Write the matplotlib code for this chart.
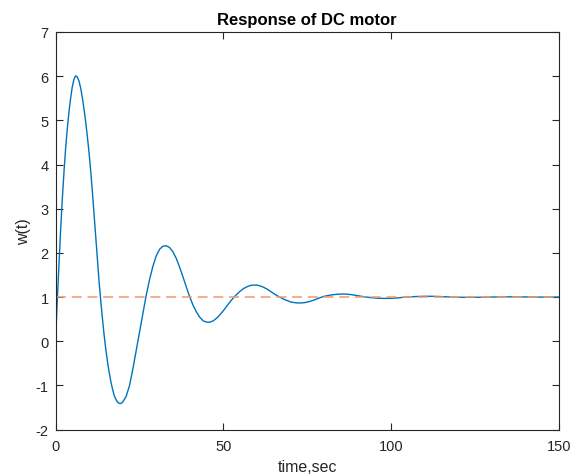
import numpy as np
import matplotlib
matplotlib.use("Agg")
import matplotlib.pyplot as plt

plt.rcParams['font.family'] = ['Liberation Sans', 'DejaVu Sans']
plt.rcParams['axes.unicode_minus'] = False

# values
t = [0, 0.5, 1.0, 1.5, 2.0, 2.5, 3.0, 3.5, 4.0, 4.5, 5.0, 5.5, 6.0, 6.5, 7.0,
     7.5, 8.0, 8.5, 9.0, 9.5, 10.0, 10.5, 11.0, 11.5, 12.0, 12.5, 13.0, 13.5,
     14.0, 14.5, 15.0, 15.5, 16.0, 16.5, 17.0, 17.5, 18.0, 18.5, 19.0, 19.5,
     20, 21, 22, 23, 24, 25, 26, 27, 28, 29, 30, 31, 32, 33, 34, 35, 36, 37,
     38, 39, 40, 41, 42, 43, 44, 45, 46, 47, 48, 49, 50, 51, 52, 53, 54, 55,
     56, 57, 58, 59, 60, 61, 62, 63, 64, 65, 66, 67, 68, 69, 70, 71, 72, 73,
     74, 75, 76, 77, 78, 79, 80, 82, 84, 86, 88, 90, 92, 94, 96, 98, 100, 102,
     104, 106, 108, 110, 112, 114, 116, 118, 120, 122, 124, 126, 128, 130, 132,
     134, 136, 138, 140, 142, 144, 146, 148, 150]
w = [0.00, 0.88, 1.70, 2.48, 3.18, 3.80, 4.35, 4.80, 5.18, 5.50, 5.76, 5.93,
     6.01, 5.98, 5.89, 5.73, 5.51, 5.25, 4.96, 4.63, 4.26, 3.84, 3.37, 2.86,
     2.34, 1.82, 1.33, 0.90, 0.50, 0.13, -0.19, -0.47, -0.71, -0.92, -1.09,
     -1.23, -1.32, -1.38, -1.41, -1.41, -1.38, -1.26, -1.02, -0.65, -0.23,
     0.20, 0.62, 1.03, 1.39, 1.69, 1.93, 2.08, 2.15, 2.16, 2.12, 2.02, 1.87,
     1.67, 1.45, 1.22, 1.00, 0.81, 0.66, 0.54, 0.46, 0.43, 0.43, 0.46, 0.52,
     0.60, 0.69, 0.79, 0.89, 0.98, 1.06, 1.13, 1.19, 1.23, 1.26, 1.27, 1.27,
     1.25, 1.22, 1.18, 1.13, 1.08, 1.03, 0.99, 0.95, 0.92, 0.89, 0.875, 0.865,
     0.865, 0.87, 0.885, 0.905, 0.93, 0.96, 0.99, 1.015, 1.045, 1.063, 1.068,
     1.055, 1.03, 1.005, 0.985, 0.972, 0.968, 0.97, 0.98, 0.995, 1.005, 1.012,
     1.016, 1.016, 1.012, 1.005, 0.999, 0.995, 0.992, 0.992, 0.994, 0.997,
     1.000, 1.003, 1.004, 1.004, 1.003, 1.001, 0.999, 0.998, 0.998, 0.999,
     1.000]
ref_t = [0, 150]
ref_w = [1, 1]

fig = plt.figure(figsize=(5.82, 4.77), dpi=100)
ax = fig.add_axes([55.5/582, 1 - 430.5/477, (559 - 55.5)/582, (430.5 - 33)/477])

ax.plot(t, w, color='#0072BD', lw=1.0)
ax.plot(ref_t, ref_w, color='#F09A68', lw=1.1, dashes=(6.5, 3.8))

ax.set_xlim(0, 150)
ax.set_ylim(-2, 7)
ax.set_xticks([0, 50, 100, 150])
ax.set_yticks(range(-2, 8))
ax.tick_params(direction='in', length=5, width=0.8, top=True, right=True,
               labelsize=10.5, colors='#262626')
ax.tick_params(axis='x', pad=7)
ax.tick_params(axis='y', pad=5)
for s in ax.spines.values():
    s.set_color('#262626')
    s.set_linewidth(0.8)

ax.set_title('Response of DC motor', fontsize=12, fontweight='bold', pad=6)
ax.set_xlabel('time,sec', fontsize=11.5, color='#262626', labelpad=4)
ax.set_ylabel('w(t)', fontsize=11.5, color='#262626', labelpad=3)

fig.savefig('out.png', dpi=100)
